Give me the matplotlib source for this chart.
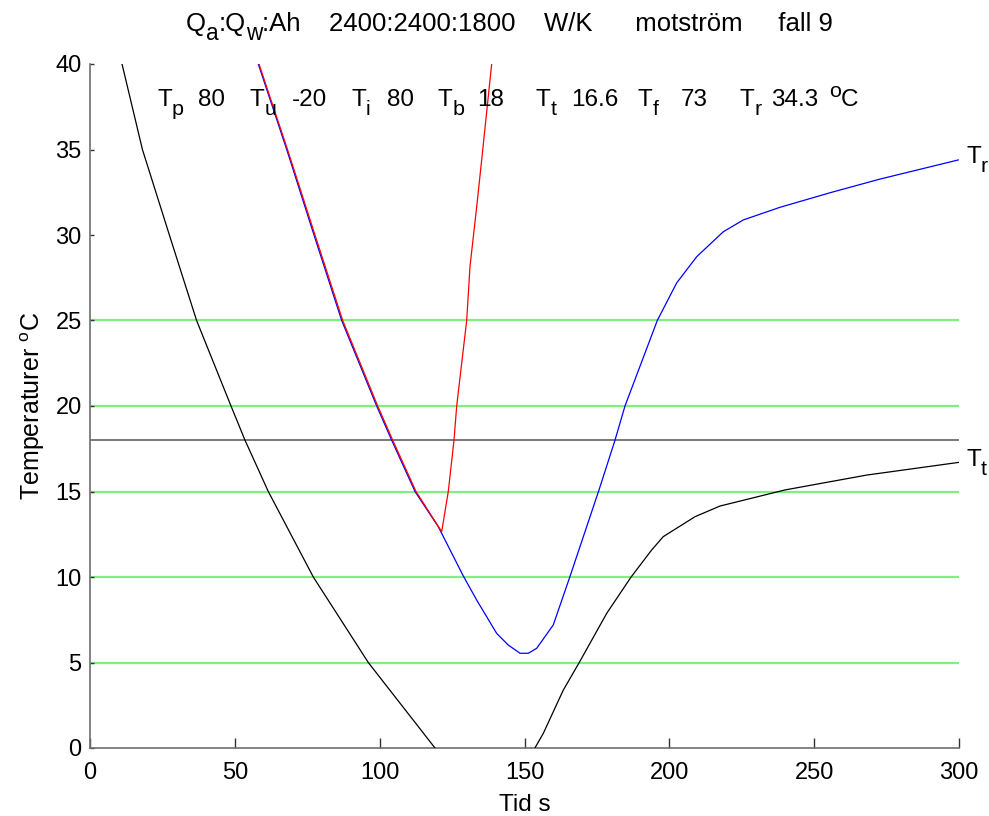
import matplotlib
matplotlib.use("Agg")
import matplotlib.pyplot as plt
from matplotlib.transforms import IdentityTransform

plt.rcParams['font.family'] = ['Liberation Sans', 'DejaVu Sans']
plt.rcParams['mathtext.fontset'] = 'custom'
plt.rcParams['mathtext.rm'] = 'Liberation Sans'
plt.rcParams['mathtext.it'] = 'Liberation Sans'
plt.rcParams['mathtext.bf'] = 'Liberation Sans'

# ---- data ----
black1_x = [11.05, 18.1, 27.4, 36.8, 48.68, 53.51, 61.55, 77.09, 96.07, 119.10]
black1_y = [40.0, 35.0, 30.0, 25.0, 20.0, 18.0, 15.0, 10.0, 5.0, 0.0]

black2_x = [153.6, 156.5, 163.4, 168.9, 178.4, 186.8, 193.9, 197.9, 208.9, 217.5, 239.9, 268.1, 299.8]
black2_y = [0.0, 0.86, 3.39, 5.0, 7.88, 10.0, 11.58, 12.36, 13.53, 14.15, 15.09, 15.96, 16.7]

blue_x = [58.10, 67.91, 77.33, 86.89, 98.97, 104.15, 112.20, 120.24, 128.87, 133.50, 140.40,
          144.41, 148.44, 151.31, 154.21, 159.94, 165.70, 175.72, 181.24, 184.69,
          195.84, 202.54, 209.44, 218.63, 225.53, 238.20, 255.46, 272.73, 299.75]
blue_y = [40.0, 35.0, 30.0, 25.0, 20.0, 18.0, 15.0, 12.94, 10.06, 8.65, 6.7,
          6.02, 5.54, 5.54, 5.83, 7.2, 10.03, 15.09, 18.0, 20.0,
          25.0, 27.2, 28.73, 30.19, 30.88, 31.62, 32.47, 33.27, 34.39]

red_x = [58.34, 68.18, 77.67, 87.24, 99.32, 104.50, 112.54, 121.41, 123.69, 125.66,
         126.59, 130.04, 131.18, 133.50, 135.22, 138.67]
red_y = [40.0, 35.0, 30.0, 25.0, 20.0, 18.0, 15.0, 12.65, 15.0, 18.0,
         20.0, 25.0, 28.15, 31.66, 34.4, 40.0]

green_levels = [5, 10, 15, 20, 25]
ref_level = 18

x_ticks = [0, 50, 100, 150, 200, 250, 300]
y_ticks = [0, 5, 10, 15, 20, 25, 30, 35, 40]

info_names = ['p', 'u', 'i', 'b', 't', 'f', 'r']
info_values = ['80', '-20', '80', '18', '16.6', '73', '34.3']

title_pieces = [('Q', 'n'), ('a', 'sub'), (':Q', 'n'), ('w', 'sub'),
                (':Ah    2400:2400:1800    W/K      motstr\u00f6m     fall 9', 'n')]
xlabel_text = 'Tid s'
ylabel_text = 'Temperaturer $^{\\rm o}$C'
end_labels = [('r', 34.3), ('t', 16.6)]

# ---- figure ----
W, H = 989, 816
fig = plt.figure(figsize=(W / 100, H / 100), dpi=100)
L, R, T, B = 90, 959, 64, 748
ax = fig.add_axes([L / W, 1 - B / H, (R - L) / W, (B - T) / H])

FS = 17
FS_TXT = 17.5
FS_TITLE = 18.5

for lv in green_levels:
    ax.plot([0, 300], [lv, lv], color='#7ff07f', lw=1.6, zorder=1)
ax.plot([0, 300], [ref_level, ref_level], color='#6e6e6e', lw=1.3, zorder=1)

ax.plot(black1_x, black1_y, color='black', lw=0.9, zorder=3)
ax.plot(black2_x, black2_y, color='black', lw=0.9, zorder=3)
ax.plot(blue_x, blue_y, color='blue', lw=0.9, zorder=3)
ax.plot(red_x, red_y, color='red', lw=0.9, zorder=4)

ax.set_xlim(0, 300)
ax.set_ylim(0, 40)
ax.set_xticks(x_ticks)
ax.set_yticks(y_ticks)
ax.tick_params(axis='x', direction='in', length=7, width=1.0, color='#333333',
               labelsize=FS, pad=10)
ax.tick_params(axis='y', direction='in', length=3, width=1.0, color='#333333',
               labelsize=FS, pad=6)
for s in ['top', 'right']:
    ax.spines[s].set_visible(False)
for s in ['left', 'bottom']:
    ax.spines[s].set_color('#6e6e6e')
    ax.spines[s].set_linewidth(1.2)

ax.set_xlabel(xlabel_text, fontsize=FS_TXT, labelpad=7.5)
ax.set_ylabel(ylabel_text, fontsize=18, labelpad=6)

renderer = fig.canvas.get_renderer()


def text_width(txt, size):
    a = fig.text(0, 0, 'x' + txt + 'x', fontsize=size, transform=IdentityTransform())
    b = fig.text(0, 0, 'xx', fontsize=size, transform=IdentityTransform())
    w = a.get_window_extent(renderer).width - b.get_window_extent(renderer).width
    a.remove()
    b.remove()
    return w


def rich(x_disp, y_disp, pieces, size, ha='left'):
    objs = []
    x = x_disp
    for txt, kind in pieces:
        s = size if kind == 'n' else size * 0.88
        dy = 0 if kind == 'n' else (-9 if kind == 'sub' else 9)
        t = fig.text(x, y_disp + dy, txt, fontsize=s, transform=IdentityTransform(),
                     ha='left', va='baseline')
        objs.append(t)
        x += text_width(txt, s)
    if ha == 'center':
        shift = (x - x_disp) / 2
        for t in objs:
            px, py = t.get_position()
            t.set_position((px - shift, py))
    return objs


name_px = [157, 250, 351, 438, 536, 638, 740]
value_px = [198, 292, 387, 477, 571, 681, 771]
info_base = H - 105.7
for n, v, npx, vpx in zip(info_names, info_values, name_px, value_px):
    rich(npx, info_base, [('T', 'n'), (n, 'sub')], FS_TXT)
    rich(vpx, info_base, [(v, 'n')], FS_TXT)
rich(829, info_base, [('o', 'sup'), ('C', 'n')], FS_TXT)

# end-of-curve labels
for n, yv in end_labels:
    xd, yd = ax.transData.transform((302.5, yv))
    rich(xd, yd - 2.0, [('T', 'n'), (n, 'sub')], FS_TXT)

# title
rich(186, H - 31, title_pieces, FS_TITLE)

fig.savefig('out.png', dpi=100)
